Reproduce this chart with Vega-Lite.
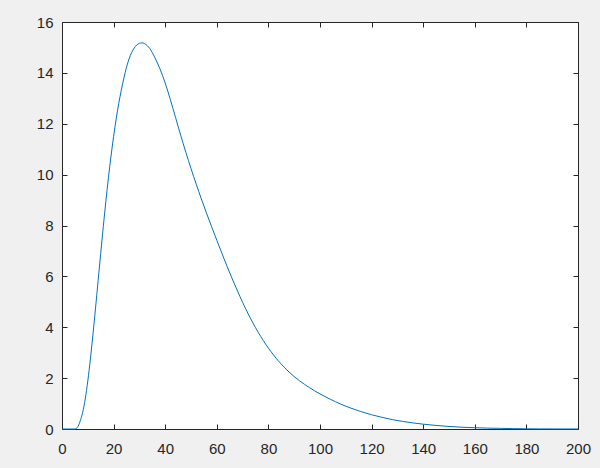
{
  "$schema": "https://vega.github.io/schema/vega-lite/v6.json",
  "description": "Skewed density-like curve, MATLAB style plot.",
  "width": 516,
  "height": 407,
  "autosize": {"type": "none"},
  "padding": {"left": 62, "top": 22, "right": 22, "bottom": 39},
  "background": "#f0f0f0",
  "config": {
    "view": {"stroke": "#262626", "strokeWidth": 1, "fill": "white"},
    "axis": {
      "grid": false,
      "domain": false,
      "title": null,
      "labelFont": "Liberation Sans",
      "labelFontSize": 15,
      "labelColor": "#262626",
      "labelFlush": false,
      "tickColor": "#262626",
      "tickSize": -5,
      "tickWidth": 1
    }
  },
  "data": {
    "values": [
      {"x": 0, "y": 0},
      {"x": 5, "y": 0},
      {"x": 5.5, "y": 0.01},
      {"x": 6, "y": 0.07},
      {"x": 6.5, "y": 0.16},
      {"x": 7, "y": 0.30},
      {"x": 8, "y": 0.65},
      {"x": 9, "y": 1.18},
      {"x": 10, "y": 1.89},
      {"x": 11, "y": 2.75},
      {"x": 12, "y": 3.72},
      {"x": 13, "y": 4.76},
      {"x": 14, "y": 5.83},
      {"x": 15, "y": 6.90},
      {"x": 16, "y": 7.95},
      {"x": 17, "y": 8.95},
      {"x": 18, "y": 9.88},
      {"x": 19, "y": 10.73},
      {"x": 20, "y": 11.50},
      {"x": 21, "y": 12.19},
      {"x": 22, "y": 12.80},
      {"x": 23, "y": 13.33},
      {"x": 24, "y": 13.80},
      {"x": 25, "y": 14.22},
      {"x": 26, "y": 14.55},
      {"x": 27, "y": 14.80},
      {"x": 28, "y": 14.98},
      {"x": 29, "y": 15.10},
      {"x": 30, "y": 15.16},
      {"x": 31, "y": 15.18},
      {"x": 32, "y": 15.15},
      {"x": 34, "y": 14.96},
      {"x": 36, "y": 14.60},
      {"x": 38, "y": 14.15},
      {"x": 40, "y": 13.60},
      {"x": 42, "y": 12.95},
      {"x": 44, "y": 12.25},
      {"x": 46, "y": 11.55},
      {"x": 48, "y": 10.88},
      {"x": 50, "y": 10.24},
      {"x": 52, "y": 9.63},
      {"x": 54, "y": 9.05},
      {"x": 56, "y": 8.49},
      {"x": 58, "y": 7.95},
      {"x": 60, "y": 7.42},
      {"x": 62, "y": 6.90},
      {"x": 64, "y": 6.39},
      {"x": 66, "y": 5.90},
      {"x": 68, "y": 5.43},
      {"x": 70, "y": 4.98},
      {"x": 72, "y": 4.56},
      {"x": 74, "y": 4.17},
      {"x": 76, "y": 3.81},
      {"x": 78, "y": 3.48},
      {"x": 80, "y": 3.18},
      {"x": 82, "y": 2.91},
      {"x": 84, "y": 2.66},
      {"x": 86, "y": 2.44},
      {"x": 88, "y": 2.24},
      {"x": 90, "y": 2.06},
      {"x": 92, "y": 1.90},
      {"x": 94, "y": 1.755},
      {"x": 96, "y": 1.62},
      {"x": 98, "y": 1.495},
      {"x": 100, "y": 1.38},
      {"x": 104, "y": 1.17},
      {"x": 108, "y": 0.98},
      {"x": 112, "y": 0.82},
      {"x": 116, "y": 0.68},
      {"x": 120, "y": 0.56},
      {"x": 124, "y": 0.46},
      {"x": 128, "y": 0.37},
      {"x": 132, "y": 0.30},
      {"x": 136, "y": 0.24},
      {"x": 140, "y": 0.19},
      {"x": 145, "y": 0.14},
      {"x": 150, "y": 0.10},
      {"x": 155, "y": 0.07},
      {"x": 160, "y": 0.05},
      {"x": 165, "y": 0.035},
      {"x": 170, "y": 0.025},
      {"x": 175, "y": 0.015},
      {"x": 180, "y": 0.008},
      {"x": 185, "y": 0.004},
      {"x": 190, "y": 0.002},
      {"x": 200, "y": 0.001}
    ]
  },
  "layer": [
    {
      "mark": {"type": "line", "color": "#0072BD", "strokeWidth": 1, "interpolate": "monotone"},
      "encoding": {
        "x": {"field": "x", "type": "quantitative", "scale": {"domain": [0, 200], "nice": false},
          "axis": {"orient": "bottom", "values": [0, 20, 40, 60, 80, 100, 120, 140, 160, 180, 200], "labelPadding": 17}},
        "y": {"field": "y", "type": "quantitative", "scale": {"domain": [0, 16], "nice": false, "zero": false},
          "axis": {"orient": "left", "values": [0, 2, 4, 6, 8, 10, 12, 14, 16], "labelPadding": 14}}
      }
    },
    {
      "mark": {"type": "line", "opacity": 0},
      "encoding": {
        "x": {"field": "x", "type": "quantitative", "scale": {"domain": [0, 200], "nice": false},
          "axis": {"orient": "top", "labels": false, "values": [0, 20, 40, 60, 80, 100, 120, 140, 160, 180, 200]}},
        "y": {"field": "y", "type": "quantitative", "scale": {"domain": [0, 16], "nice": false, "zero": false},
          "axis": {"orient": "right", "labels": false, "values": [0, 2, 4, 6, 8, 10, 12, 14, 16]}}
      }
    }
  ],
  "resolve": {"axis": {"x": "independent", "y": "independent"}}
}
